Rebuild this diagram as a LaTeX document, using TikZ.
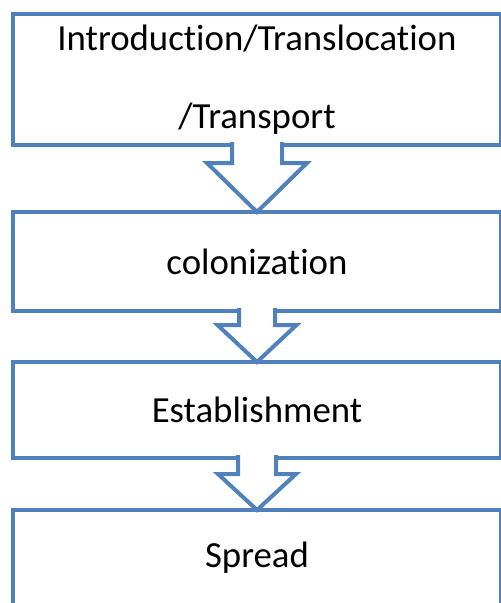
\documentclass[tikz,border=0pt]{standalone}
\usepackage{fontspec}
\setmainfont{Carlito}[Ligatures=NoCommon]
\usetikzlibrary{calc}

\definecolor{stageblue}{HTML}{4F81BD}

% block arrow from the bottom of one box to the top of the next
% #1 upper box, #2 lower box, #3 stem half width, #4 head offset, #5 head half width
\newcommand{\stagearrow}[5]{%
	\draw[arrowline] ($(#1.south)+(-#3,-3)$) -- ($(#1.south)+(-#3,#4)$) -- ($(#1.south)+(-#5,#4)$) -- (#2.north) -- ($(#1.south)+(#5,#4)$) -- ($(#1.south)+(#3,#4)$) -- ($(#1.south)+(#3,-3)$);}

\begin{document}
\begin{tikzpicture}[x=0.75pt,y=-0.75pt,
	stage/.style={draw=stageblue,line width=3pt,fill=white,inner sep=0,outer sep=0,minimum width=366pt,align=center,font=\fontsize{27.6}{58.5}\selectfont},
	arrowline/.style={draw=stageblue,line width=3pt,fill=white}]
	\useasboundingbox (0,0) rectangle (500,603);
	\node[stage,minimum height=98.25pt] (intro) at (257,79.5) {Introduction/Translocation\\/Transport};
	\node[stage,minimum height=74.25pt] (colon) at (257,261.5) {colonization};
	\node[stage,minimum height=72pt] (estab) at (257,410) {Establishment};
	\node[stage,minimum height=72pt] (spread) at (257,558) {Spread};
	\stagearrow{intro}{colon}{25}{18}{50}
	\stagearrow{colon}{estab}{18}{14}{39.5}
	\stagearrow{estab}{spread}{19}{16}{39}
\end{tikzpicture}
\end{document}
